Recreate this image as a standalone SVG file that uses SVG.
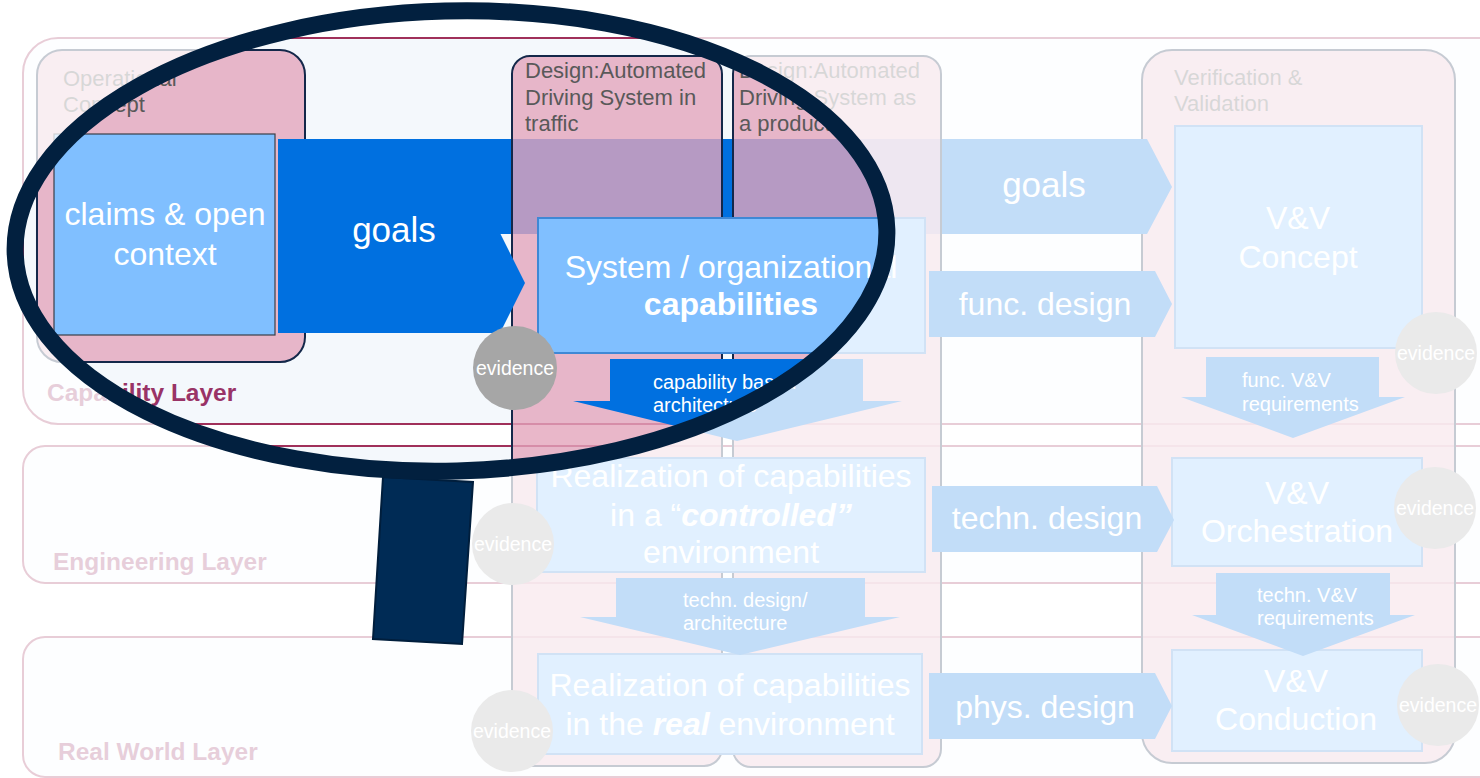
<svg xmlns="http://www.w3.org/2000/svg" width="1480" height="778" viewBox="0 0 1480 778">
<defs>
<style>
text{font-family:"Liberation Sans",Arial,sans-serif}
.layer{fill:#F4F8FC;stroke:#A0305A;stroke-width:2}
.llabel{font-size:24.5px;font-weight:bold;fill:#993366}
.col{fill:#E3A5BC;fill-opacity:.8;stroke:#14284A;stroke-width:2}
.ctitle{font-size:22px;fill:#595959}
.box{fill:#80BFFF;stroke:#3F88D5;stroke-width:2}
.big{font-size:32px;fill:#fff;text-anchor:middle}
.arrow{fill:#0070E0}
.small{font-size:20px;fill:#fff}
.ev{fill:#A6A6A6}
.evt{font-size:19.5px;fill:#fff;text-anchor:middle}
.bi{font-weight:bold;font-style:italic}
</style>
<mask id="lensHole" maskUnits="userSpaceOnUse" x="0" y="0" width="1480" height="778">
<rect x="0" y="0" width="1480" height="778" fill="#fff"/>
<ellipse cx="451" cy="241" rx="436" ry="230" transform="rotate(-1.5 451 241)" fill="#000"/>
</mask>
</defs>
<rect x="0" y="0" width="1480" height="778" fill="#fff"/>

<g id="layers">
<g id="capability-layer"><rect class="layer" x="23" y="38" width="1490" height="386" rx="35"/><text class="llabel" x="47" y="401">Capability Layer</text></g>
<g id="engineering-layer"><rect class="layer" x="23" y="446" width="1490" height="137" rx="22"/><text class="llabel" x="53" y="570">Engineering Layer</text></g>
<g id="real-world-layer"><rect class="layer" x="23" y="637" width="1490" height="140" rx="22"/><text class="llabel" x="58" y="760">Real World Layer</text></g>
</g>

<g id="vv-column"><rect class="col" x="1142" y="50" width="313" height="713" rx="30"/><text class="ctitle" x="1174" y="85">Verification &amp;</text><text class="ctitle" x="1174" y="111">Validation</text></g>

<g id="connectors-back">
<g id="goals-2"><polygon class="arrow" points="490,139 1147,139 1172,187 1147,234 490,234"/><text class="big" style="font-size:35px" x="1044" y="197">goals</text></g>
</g>

<g id="columns">
<g id="operational-concept"><rect class="col" x="37" y="50" width="268" height="312" rx="25"/><text class="ctitle" x="63" y="86">Operational</text><text class="ctitle" x="63" y="112">Concept</text></g>
<g id="design-traffic"><rect class="col" x="512" y="56" width="210" height="710" rx="18"/><text class="ctitle" x="525" y="78">Design:Automated</text><text class="ctitle" x="525" y="105">Driving System in</text><text class="ctitle" x="525" y="131">traffic</text></g>
<g id="design-product"><rect class="col" x="733" y="56" width="208" height="711" rx="18"/><text class="ctitle" x="739" y="78">Design:Automated</text><text class="ctitle" x="739" y="105">Driving System as</text><text class="ctitle" x="739" y="131">a product</text></g>
</g>

<g id="nodes">
<g id="claims"><rect x="54" y="134" width="221" height="201" fill="#80BFFF" stroke="#3A3F48" stroke-width="1.2"/><text class="big" x="165" y="225">claims &amp; open</text><text class="big" x="165" y="265">context</text></g>
<g id="capabilities"><rect class="box" x="538" y="218" width="387" height="135"/><text class="big" x="731" y="278">System / organizational</text><text class="big" x="731" y="315" font-weight="bold">capabilities</text></g>
<g id="realization-controlled"><rect class="box" x="537" y="458" width="388" height="114"/><text class="big" x="731" y="487">Realization of capabilities</text><text class="big" x="731" y="526">in a “<tspan class="bi">controlled”</tspan></text><text class="big" x="731" y="563">environment</text></g>
<g id="realization-real"><rect class="box" x="538" y="654" width="384" height="100"/><text class="big" x="730" y="696">Realization of capabilities</text><text class="big" x="730" y="735">in the <tspan class="bi">real</tspan> environment</text></g>
<g id="vv-concept"><rect class="box" x="1175" y="126" width="247" height="222"/><text class="big" x="1298" y="229">V&amp;V</text><text class="big" x="1298" y="268">Concept</text></g>
<g id="vv-orchestration"><rect class="box" x="1172" y="458" width="250" height="108"/><text class="big" x="1297" y="504">V&amp;V</text><text class="big" x="1297" y="542">Orchestration</text></g>
<g id="vv-conduction"><rect class="box" x="1172" y="650" width="250" height="101"/><text class="big" x="1296" y="692">V&amp;V</text><text class="big" x="1296" y="730">Conduction</text></g>
</g>

<g id="connectors">
<g id="goals-1"><polygon class="arrow" points="278,139 500,139 500,233 525,283 500,333 278,333"/><text class="big" style="font-size:35px" x="394" y="242">goals</text></g>
<g id="func-design"><polygon class="arrow" points="929,271 1155,271 1172,304 1155,337 929,337"/><text class="big" x="1045" y="315">func. design</text></g>
<g id="techn-design"><polygon class="arrow" points="932,486 1157,486 1174,520 1157,552 932,552"/><text class="big" x="1047" y="529">techn. design</text></g>
<g id="phys-design"><polygon class="arrow" points="929,673 1155,673 1172,706 1155,739 929,739"/><text class="big" x="1045" y="718">phys. design</text></g>
<g id="capability-architecture"><polygon class="arrow" points="610,359 863,359 863,401 902,401 737,441 573,401 610,401"/><text class="small" x="653" y="389">capability based</text><text class="small" x="653" y="412">architecture</text></g>
<g id="techn-architecture"><polygon class="arrow" points="616,578 865,578 865,617 900,617 740,655 580,617 616,617"/><text class="small" x="683" y="607">techn. design/</text><text class="small" x="683" y="630">architecture</text></g>
<g id="func-vv-req"><polygon class="arrow" points="1206,357 1379,357 1379,397 1405,397 1293,438 1181,397 1206,397"/><text class="small" x="1242" y="387">func. V&amp;V</text><text class="small" x="1242" y="411">requirements</text></g>
<g id="techn-vv-req"><polygon class="arrow" points="1216,573 1390,573 1390,615 1415,615 1303,656 1192,615 1216,615"/><text class="small" x="1257" y="602">techn. V&amp;V</text><text class="small" x="1257" y="625">requirements</text></g>
</g>

<g id="evidence">
<g id="ev-capabilities"><circle class="ev" cx="515" cy="368" r="42"/><text class="evt" x="515" y="375">evidence</text></g>
<g id="ev-controlled"><circle class="ev" cx="513" cy="544" r="41"/><text class="evt" x="513" y="551">evidence</text></g>
<g id="ev-real"><circle class="ev" cx="512" cy="731" r="41"/><text class="evt" x="512" y="738">evidence</text></g>
<g id="ev-concept"><circle class="ev" cx="1436" cy="353" r="41"/><text class="evt" x="1436" y="360">evidence</text></g>
<g id="ev-orchestration"><circle class="ev" cx="1435" cy="508" r="41"/><text class="evt" x="1435" y="515">evidence</text></g>
<g id="ev-conduction"><circle class="ev" cx="1438" cy="705" r="41"/><text class="evt" x="1438" y="712">evidence</text></g>
</g>

<rect id="fade" x="0" y="0" width="1480" height="778" fill="#fff" fill-opacity="0.76" mask="url(#lensHole)"/>

<g id="magnifier">
<polygon points="383,477 473,482 462,644 373,639" fill="#002B55" stroke="#001E3C" stroke-width="2"/>
<ellipse cx="451" cy="241" rx="436" ry="230" transform="rotate(-1.5 451 241)" fill="none" stroke="#02203F" stroke-width="17"/>
</g>
</svg>
